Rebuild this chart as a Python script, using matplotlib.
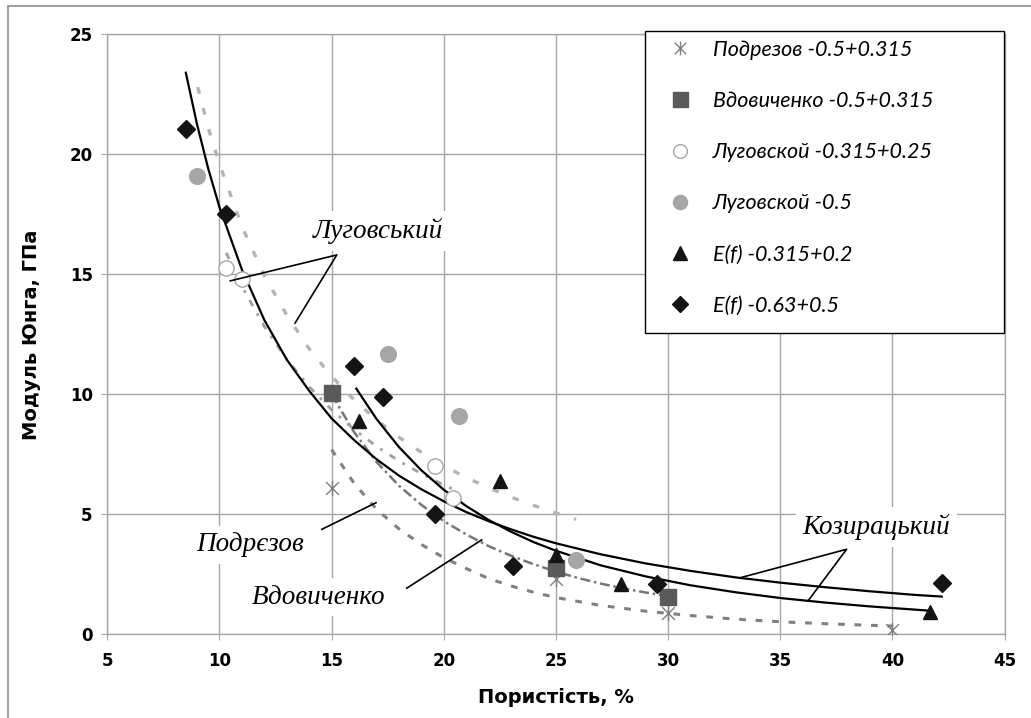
import matplotlib
matplotlib.use('Agg')
from matplotlib import pyplot as plt
from matplotlib.patches import Rectangle
from matplotlib.path import Path

# ---- measured points ----
podrezov_x = [15, 25, 30, 40]
podrezov_y = [6.1, 2.3, 0.9, 0.2]

vdovychenko_x = [15, 25, 30]
vdovychenko_y = [10.05, 2.75, 1.55]

lug_open_x = [10.3, 11.0, 19.6, 20.4]
lug_open_y = [15.25, 14.8, 7.0, 5.7]

lug_fill_x = [9.0, 17.5, 20.7, 25.9]
lug_fill_y = [19.1, 11.7, 9.1, 3.1]

ef_tri_x = [16.2, 22.5, 25.0, 27.9, 41.7]
ef_tri_y = [8.9, 6.4, 3.3, 2.1, 0.95]

ef_dia_x = [8.5, 10.3, 16.0, 17.3, 19.6, 23.1, 29.5, 42.2]
ef_dia_y = [21.05, 17.5, 11.2, 9.9, 5.0, 2.85, 2.1, 2.15]

labels = ['Подрезов -0.5+0.315', 'Вдовиченко -0.5+0.315', 'Луговской -0.315+0.25',
          'Луговской -0.5', 'E(f) -0.315+0.2', 'E(f) -0.63+0.5']

# ---- curves ----
koz_dia_cx = [8.5, 9.0, 9.5, 10, 11, 12, 13, 14, 15, 16, 17, 18, 19, 20, 21, 22, 23, 24, 25,
              27, 29, 31, 33, 35, 37, 39, 41, 42.2]
koz_dia_cy = [23.4, 21.25, 19.4, 17.8, 15.2, 13.1, 11.45, 10.15, 9.0, 8.1, 7.3, 6.62, 6.05, 5.55,
              5.1, 4.72, 4.38, 4.07, 3.8, 3.34, 2.96, 2.65, 2.38, 2.16, 1.97, 1.8, 1.65, 1.58]

koz_tri_cx = [16.1, 17, 18, 19, 20, 21, 22, 23, 24, 25, 27, 29, 31, 33, 35, 37, 39, 41.7]
koz_tri_cy = [10.24, 8.98, 7.81, 6.84, 6.03, 5.35, 4.77, 4.28, 3.85, 3.49, 2.88, 2.42, 2.05,
              1.76, 1.52, 1.33, 1.17, 0.99]

lug_fill_cx = [9.03, 9.5, 10, 11, 12, 13, 14, 15, 16, 17, 18, 19, 20, 21, 22, 23, 24, 25, 25.9]
lug_fill_cy = [22.8, 21.1, 19.6, 17.0, 14.95, 13.3, 11.9, 10.75, 9.78, 8.94, 8.22, 7.59, 7.03,
               6.54, 6.11, 5.72, 5.38, 5.06, 4.8]

lug_open_cx = [10.3, 11, 12, 13, 14, 15, 16, 17, 18, 19, 20, 20.4]
lug_open_cy = [15.9, 14.5, 12.83, 11.46, 10.32, 9.36, 8.54, 7.84, 7.23, 6.7, 6.23, 6.06]

vdov_cx = [15, 16, 17, 18, 19, 20, 21, 22, 23, 24, 25, 26, 27, 28, 29, 30]
vdov_cy = [10.0, 8.43, 7.19, 6.2, 5.4, 4.72, 4.17, 3.68, 3.28, 2.93, 2.62, 2.35, 2.12, 1.92,
           1.75, 1.6]

podr_cx = [15, 16, 17, 18, 19, 20, 21, 22, 23, 24, 25, 27, 29, 31, 33, 35, 37, 40]
podr_cy = [7.7, 6.3, 5.22, 4.4, 3.75, 3.2, 2.75, 2.33, 2.02, 1.76, 1.54, 1.21, 0.97, 0.79,
           0.64, 0.53, 0.45, 0.35]

# ---- text labels with leader lines ----
names = ['Луговський', 'Подрєзов', 'Вдовиченко', 'Козирацький']
name_pos = [(17.07, 16.8), (11.37, 3.73), (14.44, 1.56), (39.3, 4.48)]
leaders = [
    [(10.48, 14.73), (15.23, 15.81), (13.37, 12.97)],
    [(14.56, 4.38), (16.98, 5.49)],
    [(18.35, 1.93), (21.69, 3.94)],
    [(33.28, 2.38), (37.96, 3.55), (36.25, 1.41)],
]

star = Path([(-1, -1), (1, 1), (-1, 1), (1, -1), (0, -1.2), (0, 1.2)],
            [Path.MOVETO, Path.LINETO, Path.MOVETO, Path.LINETO, Path.MOVETO, Path.LINETO])

fig = plt.figure(figsize=(10.31, 7.18), dpi=100)
ax = fig.add_axes([0.1041, 0.1163, 0.8702, 0.8359])

grid_c = '#a6a6a6'
ax.set_xlim(5, 45)
ax.set_ylim(0, 25)
ax.set_xticks(range(5, 46, 5))
ax.set_yticks(range(0, 26, 5))
ax.grid(True, color=grid_c, lw=1.0, zorder=0)
ax.set_axisbelow(True)
for s in ax.spines.values():
    s.set_color(grid_c)
    s.set_linewidth(1.0)
ax.tick_params(direction='out', length=4, color=grid_c, labelsize=12)
ax.tick_params(axis='x', pad=8.5)
ax.tick_params(axis='y', pad=6.5)
for t in ax.get_xticklabels() + ax.get_yticklabels():
    t.set_fontweight('bold')

# fitted curves
ax.plot(podr_cx, podr_cy, color='#808080', lw=2.2, dashes=(2.2, 3.2), zorder=2)
ax.plot(vdov_cx, vdov_cy, color='#767676', lw=1.8, dashes=(4, 1.5, 1, 1.5), zorder=2)
ax.plot(lug_open_cx, lug_open_cy, color='#a0a0a0', lw=2.0, dashes=(2.5, 3, 1, 3), zorder=2)
ax.plot(lug_fill_cx, lug_fill_cy, color='#b4b4b4', lw=2.4, dashes=(2, 4.5), zorder=2)
ax.plot(koz_dia_cx, koz_dia_cy, color='black', lw=1.6, zorder=3)
ax.plot(koz_tri_cx, koz_tri_cy, color='black', lw=1.6, zorder=3)

# markers
h1, = ax.plot(podrezov_x, podrezov_y, ls='none', marker=star, ms=11, mew=1.0,
              mec='#7f7f7f', mfc='none', zorder=4)
h2, = ax.plot(vdovychenko_x, vdovychenko_y, ls='none', marker='s', ms=12,
              mfc='#5a5a5a', mec='#5a5a5a', zorder=4)
h3, = ax.plot(lug_open_x, lug_open_y, ls='none', marker='o', ms=11, mfc='white',
              mec='#a6a6a6', mew=1.0, zorder=4)
h4, = ax.plot(lug_fill_x, lug_fill_y, ls='none', marker='o', ms=11.3,
              mfc='#a6a6a6', mec='#a6a6a6', zorder=4)
h5, = ax.plot(ef_tri_x, ef_tri_y, ls='none', marker='^', ms=10.5,
              mfc='#141414', mec='#141414', zorder=4)
h6, = ax.plot(ef_dia_x, ef_dia_y, ls='none', marker='D', ms=9,
              mfc='#141414', mec='#141414', zorder=4)

# labels and leaders
for name, (tx, ty), line in zip(names, name_pos, leaders):
    ax.text(tx, ty, name, family='Liberation Serif', style='italic', fontsize=19.5,
            ha='center', va='center', zorder=5,
            bbox=dict(boxstyle='square,pad=0.25', fc='white', ec='none'))
    lx = [p[0] for p in line]
    ly = [p[1] for p in line]
    ax.plot(lx, ly, color='black', lw=1.2, zorder=6)

ax.set_xlabel('Пористість, %', fontsize=14, fontweight='bold', va='center')
ax.set_ylabel('Модуль Юнга, ГПа', fontsize=14, fontweight='bold', va='center')
ax.xaxis.set_label_coords(0.5, -0.1058)
ax.yaxis.set_label_coords(-0.0843, 0.5)

# legend box
fig.patches.append(Rectangle((645 / 1031, 1 - 333 / 718), 359 / 1031, 302 / 718,
                             transform=fig.transFigure, fc='white', ec='black',
                             lw=1.0, zorder=5))
fig.legend([h1, h2, h3, h4, h5, h6], labels, loc='upper left',
           bbox_to_anchor=(645 / 1031, 1 - 31 / 718), frameon=False,
           borderaxespad=0, borderpad=0.4, labelspacing=1.45, handlelength=2.45,
           handletextpad=0.3, markerscale=0.9,
           prop={'family': ['Lato', 'DejaVu Sans'], 'style': 'italic', 'size': 15.5}
           ).set_zorder(6)

# outer chart frame
fig.patches.append(Rectangle((8 / 1031, -0.1), 1.2, 1.1 - 5.5 / 718,
                             transform=fig.transFigure, fill=False, ec='#8c8c8c',
                             lw=1.2, zorder=1))

plt.savefig('out.png', dpi=100)
